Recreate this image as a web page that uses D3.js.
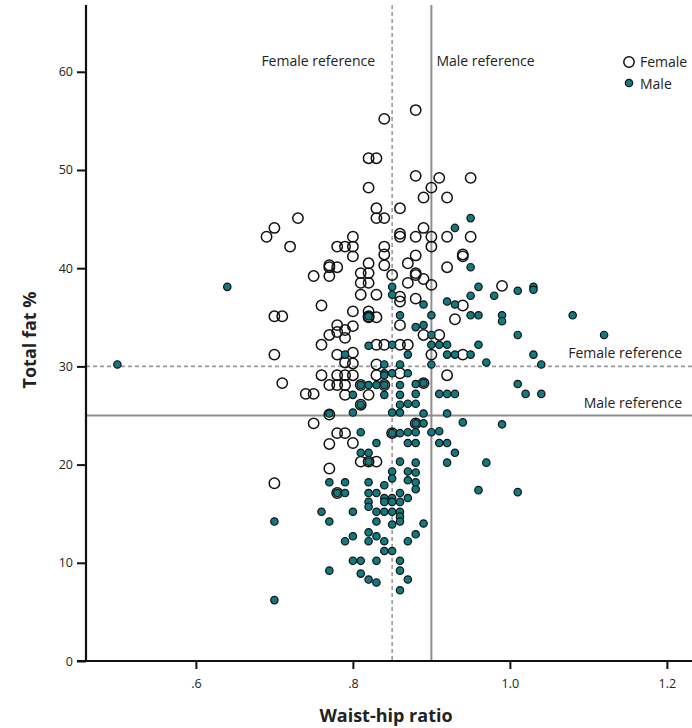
<!DOCTYPE html>
<html>
<head>
<meta charset="utf-8">
<script src="https://cdn.jsdelivr.net/npm/d3@7"></script>
<style>
  body { margin: 0; background: #fff; }
  text { font-family: "Open Sans", "Noto Sans", sans-serif; fill: #222; }
</style>
</head>
<body>
<svg id="chart" width="692" height="728"></svg>
<script>
// Waist-hip ratio vs total fat %, one [ratio, fat%] pair per subject
const femalePoints = [
  [0.88,56.1],[0.84,55.2],[0.82,51.2],[0.83,51.2],[0.88,49.4],[0.91,49.2],[0.95,49.2],
  [0.90,48.2],[0.82,48.2],[0.89,47.2],[0.92,47.2],[0.83,46.1],[0.86,46.1],[0.83,45.1],
  [0.84,45.1],[0.73,45.1],[0.89,44.1],[0.70,44.1],[0.69,43.2],[0.80,43.2],[0.86,43.5],
  [0.86,43.2],[0.88,43.2],[0.90,43.2],[0.92,43.2],[0.95,43.2],[0.72,42.2],[0.78,42.2],
  [0.79,42.2],[0.80,42.2],[0.84,42.2],[0.90,42.2],[0.84,41.4],[0.80,41.2],[0.88,41.3],
  [0.94,41.4],[0.94,41.2],[0.84,40.3],[0.82,40.5],[0.87,40.5],[0.77,40.3],[0.77,40.1],
  [0.78,40.1],[0.92,40.1],[0.75,39.2],[0.77,39.2],[0.81,39.5],[0.82,39.5],[0.85,39.3],
  [0.88,39.5],[0.88,39.3],[0.89,38.9],[0.90,38.3],[0.81,38.5],[0.82,38.5],[0.87,38.5],
  [0.99,38.2],[0.81,37.3],[0.83,37.3],[0.86,37.1],[0.86,36.6],[0.88,36.9],[0.76,36.2],
  [0.94,36.2],[0.80,35.6],[0.82,35.6],[0.82,35.0],[0.83,35.0],[0.70,35.1],[0.71,35.1],
  [0.86,34.2],[0.93,34.8],[0.78,34.2],[0.80,34.1],[0.77,33.2],[0.78,33.5],[0.79,33.7],
  [0.79,32.9],[0.89,33.2],[0.91,33.2],[0.76,32.2],[0.83,32.2],[0.84,32.2],[0.86,32.2],
  [0.87,32.2],[0.70,31.2],[0.78,31.2],[0.80,31.4],[0.90,31.2],[0.94,31.2],[0.79,30.4],
  [0.80,30.3],[0.83,30.2],[0.76,29.1],[0.78,29.1],[0.79,29.1],[0.80,29.1],[0.83,29.1],
  [0.86,29.3],[0.92,29.1],[0.71,28.3],[0.77,28.1],[0.78,28.1],[0.79,28.1],[0.74,27.2],
  [0.75,27.2],[0.79,27.1],[0.82,27.1],[0.89,28.3],[0.75,24.2],[0.78,23.2],[0.79,23.2],
  [0.77,22.1],[0.80,22.2],[0.81,20.3],[0.83,20.3],[0.77,19.6],[0.70,18.1],
  [0.78,17.1],[0.81,28.1],[0.84,28.1],[0.81,26.1],[0.85,23.2],[0.88,24.2],[0.82,20.3],
  [0.77,25.1],[0.82,35.1]
];

const malePoints = [
  [0.95,45.1],[0.93,44.1],[0.85,38.1],[0.85,37.3],[0.86,35.2],[0.82,35.1],[0.88,34.0],
  [0.85,32.2],[0.82,32.1],[0.79,31.2],[0.87,31.2],[0.84,30.2],[0.86,30.2],[0.84,29.3],
  [0.85,29.3],[0.87,29.3],[0.95,40.1],[0.96,38.1],[0.95,37.2],[0.98,37.2],[1.01,37.7],
  [1.03,38.1],[1.03,37.8],[0.92,36.6],[0.93,36.3],[0.89,36.3],[0.90,35.2],[0.95,35.2],
  [0.96,35.2],[0.99,35.2],[0.99,34.6],[1.08,35.2],[0.89,34.2],[0.90,33.2],[1.01,33.2],
  [1.12,33.2],[0.90,32.2],[0.91,32.2],[0.92,32.2],[0.96,32.2],[0.92,31.2],[0.93,31.2],
  [0.95,31.2],[1.03,31.2],[0.90,30.2],[0.97,30.4],[1.04,30.2],[0.88,28.2],[0.89,28.3],
  [1.01,28.2],[0.88,27.2],[0.91,27.2],[0.92,27.2],[0.93,27.2],[1.02,27.2],[1.04,27.2],
  [0.87,26.2],[0.88,26.2],[0.89,25.2],[0.92,25.2],[0.94,24.3],[0.99,24.1],[0.88,24.2],
  [0.89,24.2],[0.90,23.3],[0.91,23.4],[0.87,23.3],[0.88,23.3],[0.87,22.2],[0.88,22.2],
  [0.91,22.2],[0.92,22.2],[0.93,21.2],[0.88,20.2],[0.92,20.2],[0.97,20.2],[0.88,19.2],
  [0.87,18.4],[0.88,17.5],[0.96,17.4],[1.01,17.2],[0.84,29.1],[0.81,28.1],[0.82,28.1],
  [0.83,28.1],[0.84,28.1],[0.86,28.1],[0.80,27.1],[0.84,27.1],[0.86,27.1],[0.81,26.1],
  [0.86,26.1],[0.80,25.3],[0.85,25.3],[0.86,25.3],[0.81,23.3],[0.85,23.2],[0.86,23.2],
  [0.83,22.2],[0.81,21.2],[0.82,21.2],[0.82,20.3],[0.86,20.3],[0.85,19.3],[0.85,18.6],
  [0.87,19.3],[0.79,18.2],[0.82,18.2],[0.84,17.9],[0.88,18.2],[0.82,17.1],[0.83,17.1],
  [0.84,16.6],[0.85,16.6],[0.87,16.6],[0.77,25.2],[0.77,18.2],[0.78,17.1],[0.79,17.1],
  [0.86,17.1],[0.82,16.2],[0.82,15.7],[0.84,16.2],[0.85,16.2],[0.86,16.2],[0.76,15.2],
  [0.80,15.2],[0.83,15.2],[0.84,15.2],[0.85,15.2],[0.86,15.2],[0.86,14.7],[0.86,14.2],
  [0.70,14.2],[0.77,14.2],[0.83,14.2],[0.85,13.9],[0.89,14.0],[0.82,13.1],[0.80,12.7],
  [0.83,12.7],[0.88,12.9],[0.79,12.2],[0.82,12.2],[0.84,12.2],[0.87,12.2],[0.84,11.2],
  [0.85,11.2],[0.80,10.2],[0.81,10.2],[0.83,10.2],[0.86,10.2],[0.77,9.2],[0.86,9.2],
  [0.81,8.9],[0.82,8.3],[0.83,8.0],[0.87,8.3],[0.86,7.2],[0.70,6.2],[0.50,30.2],[0.64,38.1]
];

const xTickValues = [0.6, 0.8, 1.0, 1.2];
const xTickLabels = [".6", ".8", "1.0", "1.2"];
const yTickValues = [0, 10, 20, 30, 40, 50, 60];

// Reference cut-offs: ratio (vertical lines) and fat % (horizontal lines)
const refNames = ["Female reference", "Male reference"];
const refRatio = [0.85, 0.90];
const refFat = [30, 25];

const svg = d3.select("#chart");
const plotLeft = 86, plotBottom = 661, plotTop = 5, plotRight = 692;

const x = d3.scaleLinear().domain([0.46, 1.232]).range([plotLeft, plotRight]);
const y = d3.scaleLinear().domain([0, 66.8]).range([plotBottom, plotTop]);

const lineStyles = [
  { stroke: "#9a9a9a", width: 1.6, dash: "4,3" },
  { stroke: "#8e8e8e", width: 2, dash: null }
];

// Reference lines
const refs = svg.append("g");
refRatio.forEach((v, i) => {
  refs.append("line")
    .attr("x1", x(v)).attr("x2", x(v))
    .attr("y1", plotTop).attr("y2", plotBottom)
    .attr("stroke", lineStyles[i].stroke)
    .attr("stroke-width", lineStyles[i].width)
    .attr("stroke-dasharray", lineStyles[i].dash);
});
refFat.forEach((v, i) => {
  refs.append("line")
    .attr("x1", plotLeft).attr("x2", plotRight)
    .attr("y1", y(v)).attr("y2", y(v))
    .attr("stroke", lineStyles[i].stroke)
    .attr("stroke-width", lineStyles[i].width)
    .attr("stroke-dasharray", lineStyles[i].dash);
});

// Reference labels
const labelSize = "14px";
svg.append("text").attr("x", x(refRatio[0]) - 17).attr("y", 66)
  .attr("text-anchor", "end").style("font-size", labelSize).text(refNames[0]);
svg.append("text").attr("x", x(refRatio[1]) + 5).attr("y", 66)
  .attr("text-anchor", "start").style("font-size", labelSize).text(refNames[1]);
svg.append("text").attr("x", 682).attr("y", y(refFat[0]) - 8)
  .attr("text-anchor", "end").style("font-size", labelSize).text(refNames[0]);
svg.append("text").attr("x", 682).attr("y", y(refFat[1]) - 7)
  .attr("text-anchor", "end").style("font-size", labelSize).text(refNames[1]);

// Points
svg.append("g").selectAll("circle").data(femalePoints).join("circle")
  .attr("cx", d => x(d[0])).attr("cy", d => y(d[1]))
  .attr("r", 5.2).attr("fill", "none")
  .attr("stroke", "#111").attr("stroke-width", 1.5);

svg.append("g").selectAll("circle").data(malePoints).join("circle")
  .attr("cx", d => x(d[0])).attr("cy", d => y(d[1]))
  .attr("r", 3.7).attr("fill", "#117a80")
  .attr("stroke", "#111").attr("stroke-width", 1.2);

// Axes
const xAxis = svg.append("g").attr("transform", `translate(0,${plotBottom})`)
  .call(d3.axisBottom(x).tickValues(xTickValues)
    .tickFormat((d, i) => xTickLabels[i]).tickSize(8).tickPadding(10));
const yAxis = svg.append("g").attr("transform", `translate(${plotLeft},0)`)
  .call(d3.axisLeft(y).tickValues(yTickValues).tickSize(9).tickPadding(4));
[xAxis, yAxis].forEach(a => {
  a.select(".domain").remove();
  a.selectAll(".tick line").attr("stroke", "#111").attr("stroke-width", 2);
  a.selectAll(".tick text").style("font-size", "12.5px").style("font-family", "\"Open Sans\", sans-serif").attr("fill", "#222");
});
svg.append("line").attr("x1", plotLeft).attr("x2", plotLeft).attr("y1", plotTop).attr("y2", plotBottom + 1)
  .attr("stroke", "#111").attr("stroke-width", 2.2);
svg.append("line").attr("x1", plotLeft - 9).attr("x2", plotRight).attr("y1", plotBottom).attr("y2", plotBottom)
  .attr("stroke", "#111").attr("stroke-width", 2.2);

// Axis titles
svg.append("text").attr("x", 386).attr("y", 722).attr("text-anchor", "middle")
  .style("font-size", "18px").style("font-weight", "bold").text("Waist-hip ratio");
svg.append("text").attr("transform", "translate(36,340) rotate(-90)").attr("text-anchor", "middle")
  .style("font-size", "18px").style("font-weight", "bold").text("Total fat %");

// Legend
const legend = svg.append("g");
legend.append("circle").attr("cx", 629).attr("cy", 62).attr("r", 5.2)
  .attr("fill", "none").attr("stroke", "#111").attr("stroke-width", 1.5);
legend.append("text").attr("x", 640).attr("y", 67).style("font-size", "14px").text("Female");
legend.append("circle").attr("cx", 629).attr("cy", 83).attr("r", 3.7)
  .attr("fill", "#117a80").attr("stroke", "#111").attr("stroke-width", 1.2);
legend.append("text").attr("x", 640).attr("y", 89).style("font-size", "14px").text("Male");
</script>
</body>
</html>
